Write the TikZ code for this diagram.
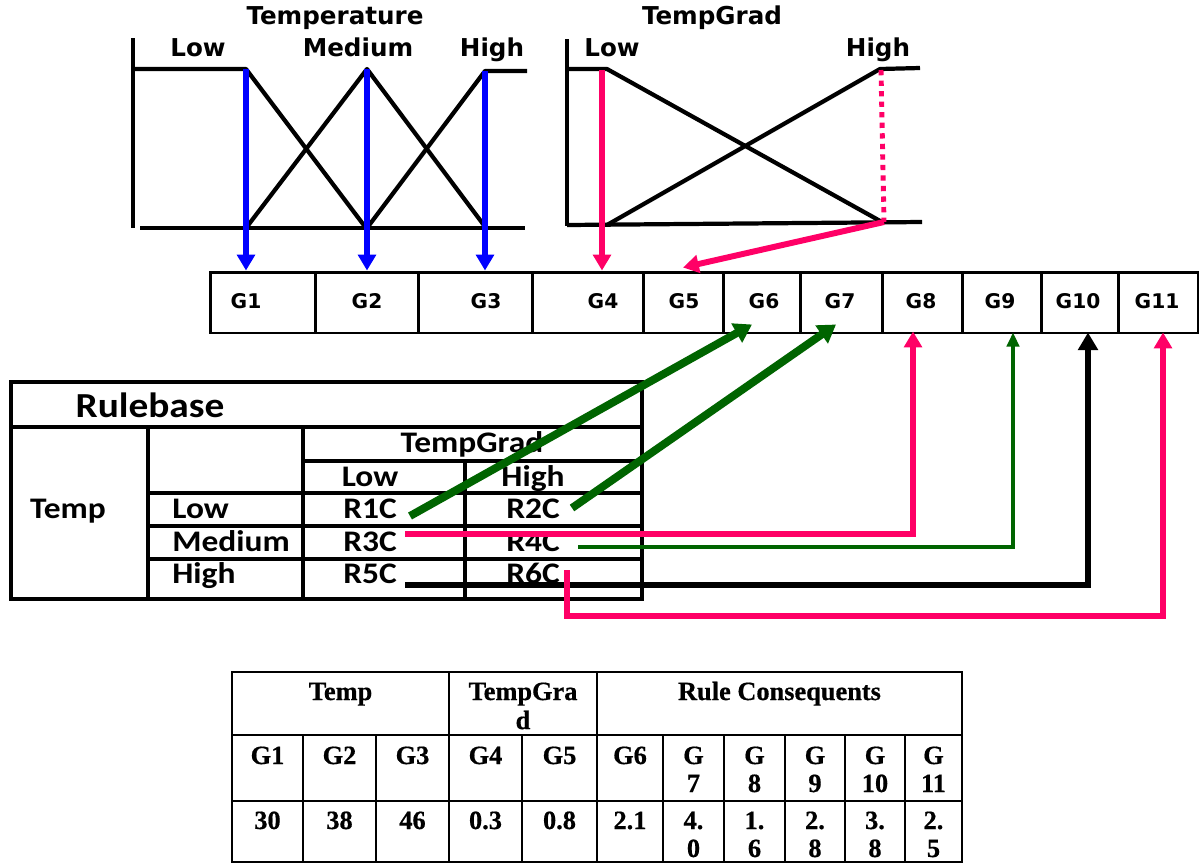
\documentclass[tikz,border=0pt]{standalone}
\usepackage{fontspec}
\setmainfont{Carlito}
\newfontfamily\chartfont{DejaVu Sans}
\newfontfamily\rbfont[FakeStretch=1.12]{Carlito}
\newfontfamily\timesfont[FakeBold=0.6]{Liberation Serif}
\usetikzlibrary{arrows.meta}
\definecolor{pinkc}{RGB}{255,0,102}
\definecolor{greenc}{RGB}{0,100,0}
\begin{document}
\begin{tikzpicture}[x=0.02cm,y=-0.02cm,
  mf/.style={line width=2.4pt,line join=round},
  tbl/.style={line width=2pt},
  btl/.style={line width=1.4pt},
  clbl/.style={font=\chartfont\bfseries\fontsize{14}{16}\selectfont,inner sep=0,anchor=base},
  gcell/.style={draw,line width=1.7pt,minimum height=1.22cm,inner sep=0},
  glbl/.style={font=\chartfont\bfseries\fontsize{11.5}{13}\selectfont,inner sep=0},
  rb/.style={font=\rbfont\bfseries\fontsize{17}{20}\selectfont,inner sep=0,anchor=base},
  bt/.style={font=\timesfont\bfseries\fontsize{15}{16}\selectfont,inner sep=0,anchor=base},
  bluearr/.style={blue,line width=3.2pt,-{Triangle[width=10pt,length=9pt]}},
  pinkarr/.style={pinkc,line width=3.4pt,-{Triangle[width=10pt,length=9pt]}},
  greenarr/.style={greenc,line width=4.5pt,-{Triangle[width=12pt,length=10pt]}},
  thingreen/.style={greenc,line width=2pt,-{Triangle[width=7pt,length=8pt]}},
  blackarr/.style={black,line width=3.8pt,-{Triangle[width=11pt,length=10pt]}}
]
\useasboundingbox (0,0) rectangle (1199,863);

% ---------- Temperature membership functions ----------
\node[clbl] (ttitle) at (335,24) {Temperature};
\node[clbl] (tlowl) at (198,56) {Low};
\node[clbl] (tmedl) at (358,56) {Medium};
\node[clbl] (thighl) at (492,56) {High};
\coordinate (tlow) at (246,69);
\coordinate (tmed) at (367,69);
\coordinate (thigh) at (485,71);
\draw[mf] (133,38) -- (133,228);
\draw[mf] (133,69) -- (tlow) -- (366,228);
\draw[mf] (140,228) -- (525,228);
\draw[mf] (246,228) -- (tmed) -- (486,228);
\draw[mf] (367,228) -- (thigh) -- (527,71);

% ---------- TempGrad membership functions ----------
\node[clbl] (gtitle) at (712,24) {TempGrad};
\node[clbl] (glowl) at (612,56) {Low};
\node[clbl] (ghighl) at (878,56) {High};
\coordinate (glow) at (602,70);
\coordinate (ghightop) at (881,70);
\coordinate (ghighbot) at (884,222);
\draw[mf] (567,39) -- (567,226);
\draw[mf] (567,69) -- (607,69) -- (882,222);
\draw[mf] (567,225) -- (922,222);
\draw[mf] (607,225) -- (880,69) -- (920,68);
\draw[pinkc,line width=2.8pt,dash pattern=on 3pt off 3pt] (ghightop) -- (ghighbot);

% ---------- G bar ----------
\node[gcell,minimum width=2.10cm] (g1) at (262.5,302.5) {};
\node[gcell,minimum width=2.06cm] (g2) at (366.5,302.5) {};
\node[gcell,minimum width=2.28cm] (g3) at (475,302.5) {};
\node[gcell,minimum width=2.22cm] (g4) at (587.5,302.5) {};
\node[gcell,minimum width=1.60cm] (g5) at (683,302.5) {};
\node[gcell,minimum width=1.54cm] (g6) at (761.5,302.5) {};
\node[gcell,minimum width=1.64cm] (g7) at (841,302.5) {};
\node[gcell,minimum width=1.60cm] (g8) at (922,302.5) {};
\node[gcell,minimum width=1.58cm] (g9) at (1001.5,302.5) {};
\node[gcell,minimum width=1.54cm] (g10) at (1079.5,302.5) {};
\node[gcell,minimum width=1.60cm] (g11) at (1158,302.5) {};
\node[glbl] (g1l) at (246,301) {G1};
\node[glbl] (g2l) at (367,301) {G2};
\node[glbl] (g3l) at (486,301) {G3};
\node[glbl] (g4l) at (603,301) {G4};
\node[glbl] (g5l) at (684,301) {G5};
\node[glbl] (g6l) at (764,301) {G6};
\node[glbl] (g7l) at (840,301) {G7};
\node[glbl] (g8l) at (921,301) {G8};
\node[glbl] (g9l) at (1000,301) {G9};
\node[glbl] (g10l) at (1078,301) {G10};
\node[glbl] (g11l) at (1157,301) {G11};

% arrows from membership functions
\draw[bluearr] (tlow) -- (tlow |- g1.north);
\draw[bluearr] (tmed) -- (tmed |- g2.north);
\draw[bluearr] (thigh) -- (thigh |- g3.north);
\draw[pinkarr] (glow) -- (glow |- g4.north);
\draw[pinkarr] (ghighbot) -- ([yshift=0.06cm]g5.north);

% ---------- Rulebase table ----------
\draw[tbl] (11,382) rectangle (642,599);
\draw[tbl] (11,427) -- (642,427);
\draw[tbl] (148,427) -- (148,599);
\draw[tbl] (303,427) -- (303,599);
\draw[tbl] (303,461) -- (642,461);
\draw[tbl] (465,461) -- (465,599);
\draw[tbl] (148,493) -- (642,493);
\draw[tbl] (148,526) -- (642,526);
\draw[tbl] (148,559) -- (642,559);
\node[rb,font=\rbfont\bfseries\fontsize{20}{24}\selectfont] (rbt) at (150,417) {Rulebase};
\node[rb] (tgh) at (472,452) {TempGrad};
\node[rb] (lowh) at (370,486) {Low};
\node[rb] (highh) at (533,486) {High};
\node[rb] (temph) at (68,518) {Temp};
\node[rb,anchor=base west] (rl) at (172,518) {Low};
\node[rb,anchor=base west] (rm) at (172,551) {Medium};
\node[rb,anchor=base west] (rh) at (172,583) {High};
\node[rb] (r1c) at (370,518) {R1C};
\node[rb] (r2c) at (533,518) {R2C};
\node[rb] (r3c) at (370,551) {R3C};
\node[rb] (r4c) at (533,551) {R4C};
\node[rb] (r5c) at (370,583) {R5C};
\node[rb] (r6c) at (533,583) {R6C};

\coordinate (s1) at (410,516);
\coordinate (s2) at (572,508);
\coordinate (s3) at (405,534);
\coordinate (s4) at (578,547);
\coordinate (s5) at (405,585);
\coordinate (s6) at (567,570);

\draw[greenarr] (s1) -- ([xshift=-0.19cm,yshift=0.2cm]g6.south);
\draw[greenarr] (s2) -- ([xshift=-0.1cm,yshift=0.2cm]g7.south);
\draw[pinkarr,line join=miter] (s3) -| ([xshift=-0.18cm,yshift=0.06cm]g8.south);
\draw[thingreen,line join=miter] (s4) -| ([xshift=0.23cm,yshift=0.04cm]g9.south);
\draw[blackarr,line join=miter] (s5) -| ([xshift=0.17cm,yshift=0.04cm]g10.south);
\draw[pinkarr,line join=miter] (s6) -- (567,616) -| ([xshift=0.1cm,yshift=0.04cm]g11.south);

% ---------- bottom table ----------
\draw[btl] (232,672) rectangle (962,862);
\draw[btl] (232,735) -- (962,735);
\draw[btl] (232,801) -- (962,801);
\foreach \x in {449,597} \draw[btl] (\x,672) -- (\x,862);
\foreach \x in {303,376,522,663,724,785,845,905} \draw[btl] (\x,735) -- (\x,862);
\node[bt] (bh1) at (340.5,700) {Temp};
\node[bt] (bh2) at (523,700) {TempGra};
\node[bt] (bh2b) at (523,729) {d};
\node[bt] (bh3) at (779.5,700) {Rule Consequents};
\node[bt] (b1) at (267.5,764) {G1};
\node[bt] (b2) at (339.5,764) {G2};
\node[bt] (b3) at (412.5,764) {G3};
\node[bt] (b4) at (485.5,764) {G4};
\node[bt] (b5) at (559.5,764) {G5};
\node[bt] (b6) at (630,764) {G6};
\node[bt] (b7) at (693.5,764) {G};
\node[bt] (b7b) at (693.5,792) {7};
\node[bt] (b8) at (754.5,764) {G};
\node[bt] (b8b) at (754.5,792) {8};
\node[bt] (b9) at (815,764) {G};
\node[bt] (b9b) at (815,792) {9};
\node[bt] (b10) at (875,764) {G};
\node[bt] (b10b) at (875,792) {10};
\node[bt] (b11) at (933.5,764) {G};
\node[bt] (b11b) at (933.5,792) {11};
\node[bt] (v1) at (267.5,829) {30};
\node[bt] (v2) at (339.5,829) {38};
\node[bt] (v3) at (412.5,829) {46};
\node[bt] (v4) at (485.5,829) {0.3};
\node[bt] (v5) at (559.5,829) {0.8};
\node[bt] (v6) at (630,829) {2.1};
\node[bt] (v7) at (693.5,829) {4.};
\node[bt] (v7b) at (693.5,857) {0};
\node[bt] (v8) at (754.5,829) {1.};
\node[bt] (v8b) at (754.5,857) {6};
\node[bt] (v9) at (815,829) {2.};
\node[bt] (v9b) at (815,857) {8};
\node[bt] (v10) at (875,829) {3.};
\node[bt] (v10b) at (875,857) {8};
\node[bt] (v11) at (933.5,829) {2.};
\node[bt] (v11b) at (933.5,857) {5};
\end{tikzpicture}
\end{document}
